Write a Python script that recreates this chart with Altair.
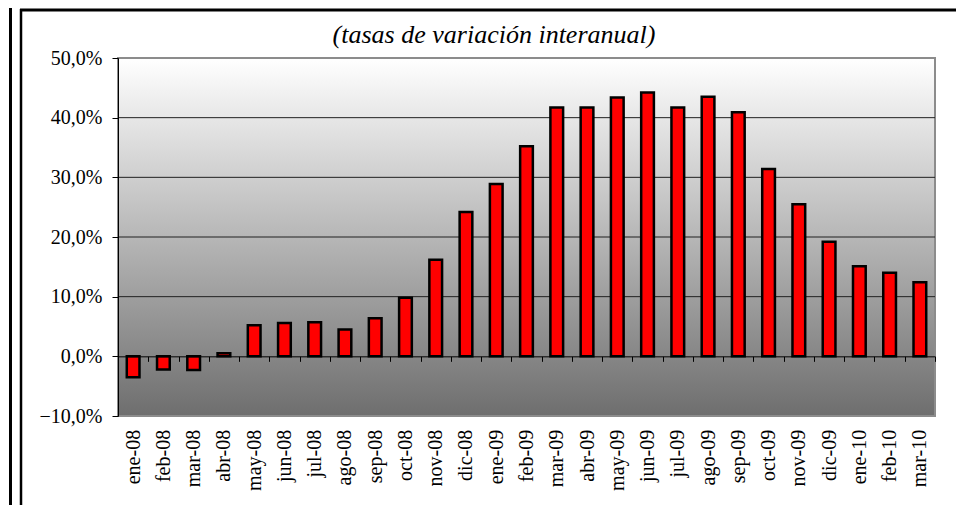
import altair as alt
import pandas as pd

meses = ["ene-08", "feb-08", "mar-08", "abr-08", "may-08", "jun-08", "jul-08", "ago-08", "sep-08",
         "oct-08", "nov-08", "dic-08", "ene-09", "feb-09", "mar-09", "abr-09", "may-09", "jun-09",
         "jul-09", "ago-09", "sep-09", "oct-09", "nov-09", "dic-09", "ene-10", "feb-10", "mar-10"]
valores = [-3.5, -2.2, -2.3, 0.5, 5.2, 5.6, 5.7, 4.5, 6.4,
           9.8, 16.2, 24.2, 28.9, 35.2, 41.7, 41.7, 43.4, 44.2,
           41.7, 43.5, 40.9, 31.4, 25.5, 19.2, 15.1, 14.0, 12.4]
marcas_y = [-10, 0, 10, 20, 30, 40, 50]
rejilla_y = [10, 20, 30, 40]
titulo = "(tasas de variación interanual)"

W, H = 817, 358
Y_MIN, Y_MAX = -10, 50
FONT = "Liberation Serif"

df = pd.DataFrame({"mes": meses, "valor": valores})
df_grid = pd.DataFrame({"valor": rejilla_y})
df_one = pd.DataFrame({"k": [0]})
df_title = pd.DataFrame({"t": [titulo]})

# x axis sits on the zero line
zero_offset = H * (Y_MAX - 0) / (Y_MAX - Y_MIN) - H

y_scale = alt.Scale(domain=[Y_MIN, Y_MAX], nice=False, zero=False)


def y_axis():
    return alt.Axis(values=marcas_y, grid=False, domainColor="#000000", domainWidth=1,
                    tickColor="#000000", tickSize=6, labelFont=FONT, labelFontSize=20,
                    labelColor="#000000", labelPadding=10, labelOverlap=False,
                    labelExpr="replace(format(datum.value, '.1f'), '.', ',') + '%'",
                    title=None, zindex=1)


gradient = alt.Gradient(
    gradient="linear", x1=0, x2=0, y1=0, y2=1,
    stops=[alt.GradientStop(color="#ffffff", offset=0),
           alt.GradientStop(color="#6e6e6e", offset=1)],
)

fondo = alt.Chart(df_one).mark_rect(fill=gradient, stroke="#8c8c8c", strokeWidth=2).encode(
    x=alt.value(0), x2=alt.value(W), y=alt.value(0), y2=alt.value(H)
)

rejilla = alt.Chart(df_grid).mark_rule(color="#202020", strokeWidth=1).encode(
    y=alt.Y("valor:Q", scale=y_scale, axis=y_axis(), title=None),
    x=alt.value(0), x2=alt.value(W),
)

barras = alt.Chart(df).mark_bar(
    fill="#ff0000", stroke="#000000", strokeWidth=2.5, width=alt.RelativeBandSize(0.42)
).encode(
    x=alt.X("mes:N", sort=meses, title=None,
            scale=alt.Scale(paddingInner=0, paddingOuter=0),
            axis=alt.Axis(orient="bottom", offset=zero_offset, tickBand="extent",
                          tickSize=5, tickColor="#000000", domainColor="#000000", domainWidth=1,
                          labelAngle=270, labelAlign="right", labelBaseline="middle",
                          labelFont=FONT, labelFontSize=20, labelColor="#000000",
                          labelPadding=68, labelOverlap=False, grid=False, zindex=1)),
    y=alt.Y("valor:Q", scale=y_scale, axis=y_axis(), title=None),
)

texto_titulo = alt.Chart(df_title).mark_text(
    font=FONT, fontSize=26, fontStyle="italic", color="#000000",
    align="center", baseline="alphabetic"
).encode(text="t:N", x=alt.value(376), y=alt.value(-15))

marco_ext = alt.Chart(df_one).mark_rule(color="#000000", strokeWidth=3).encode(
    x=alt.value(-107.5), y=alt.value(-60), y2=alt.value(460)
)
marco_izq = alt.Chart(df_one).mark_rule(color="#000000", strokeWidth=2.5).encode(
    x=alt.value(-97), y=alt.value(-49), y2=alt.value(460)
)
marco_sup = alt.Chart(df_one).mark_rule(color="#000000", strokeWidth=3).encode(
    x=alt.value(-98), x2=alt.value(W + 40), y=alt.value(-48)
)

chart = alt.layer(fondo, rejilla, barras, texto_titulo, marco_ext, marco_izq, marco_sup).properties(
    width=W, height=H,
    autosize=alt.AutoSizeParams(type="none"),
    padding={"left": 110, "top": 50, "right": 21, "bottom": 89},
    background="#ffffff",
).configure(font=FONT).configure_axis(labelFont=FONT).configure_text(font=FONT).configure_view(strokeWidth=0)

chart.save("out.html", embed_options={"renderer": "svg", "actions": False})
